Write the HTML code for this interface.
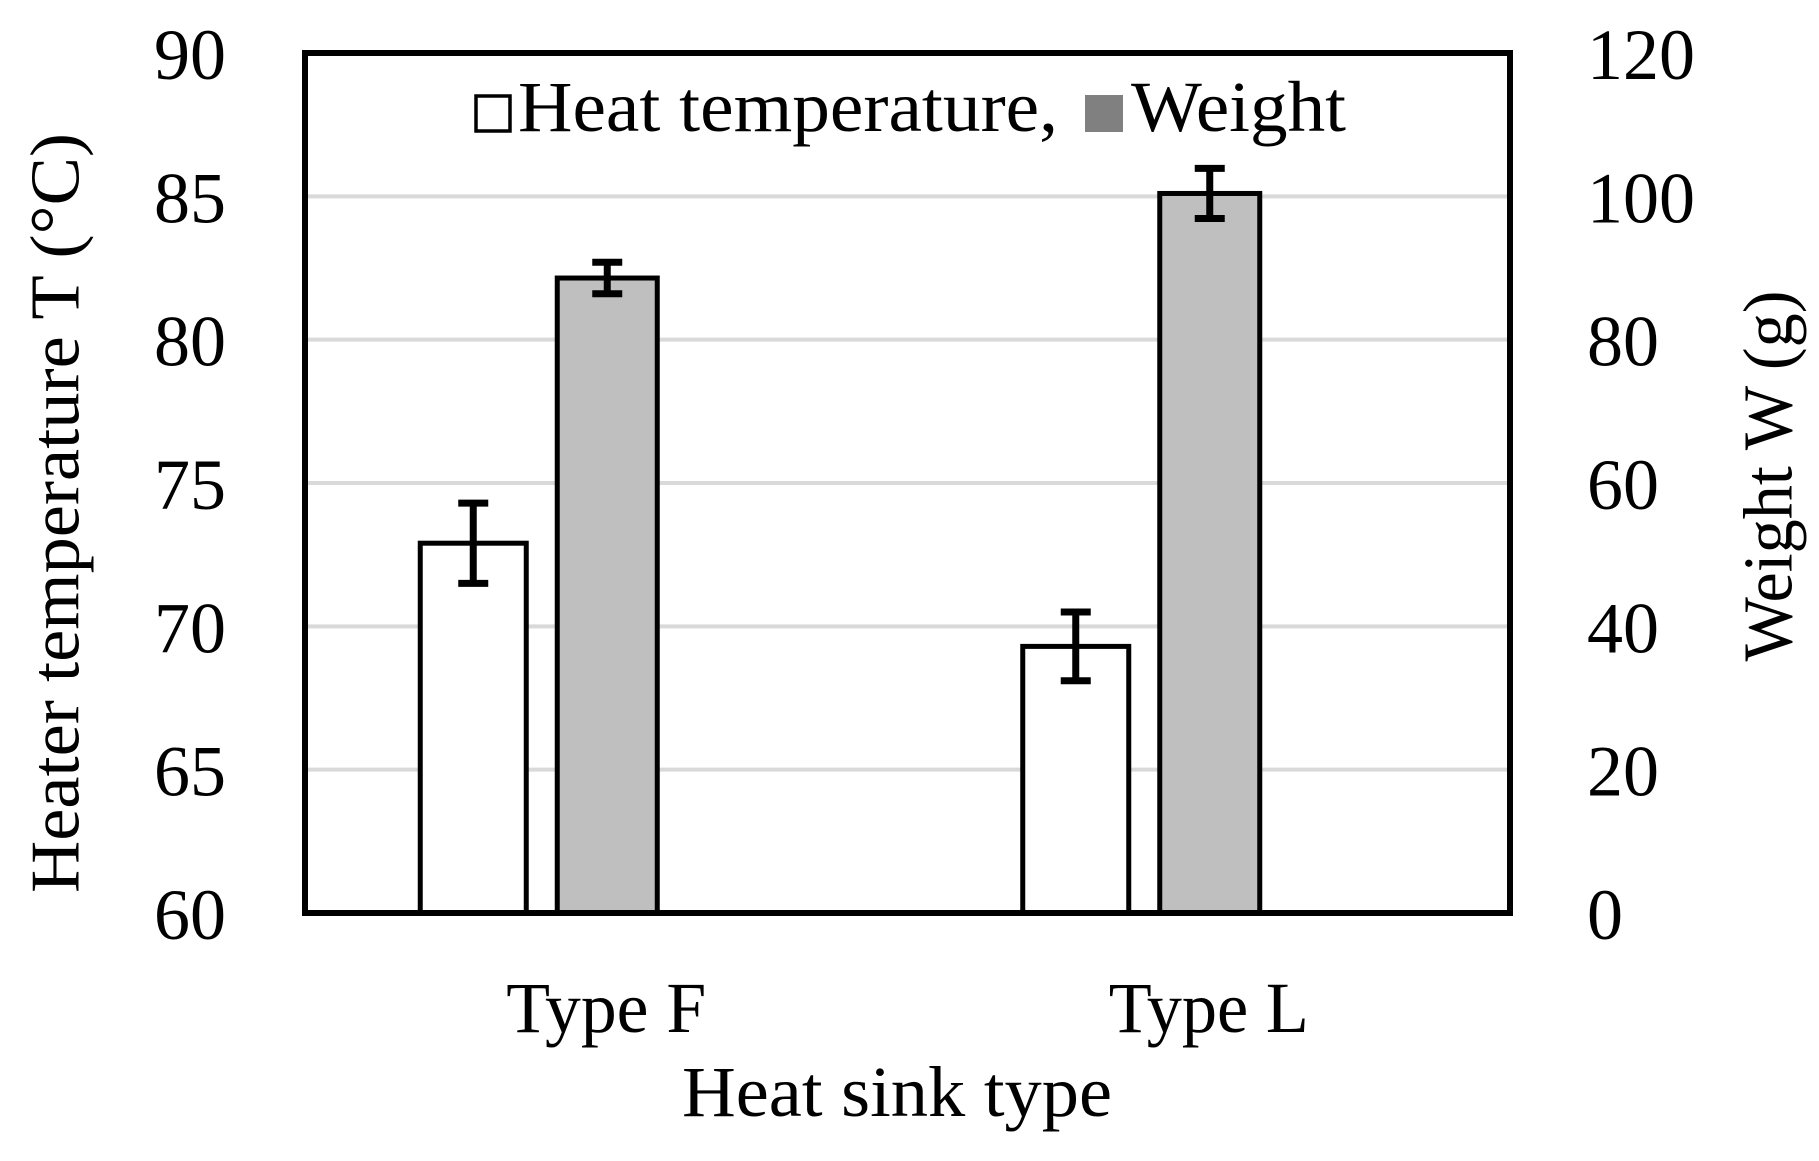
<!DOCTYPE html>
<html><head><meta charset="utf-8"><style>
html,body{margin:0;padding:0;background:#fff;}
svg{display:block;font-family:"Liberation Serif",serif;}
</style></head><body>
<svg id="chart" width="1819" height="1161" viewBox="0 0 1819 1161">
<g id="grid"></g>
<g id="bars"></g>
<g id="errs"></g>
<rect x="305" y="53" width="1205" height="860" fill="none" stroke="#000" stroke-width="6"/>
<g id="ticks" font-size="72" fill="#000"></g>
<text x="56" y="513" font-size="70" text-anchor="middle" dominant-baseline="central" textLength="760" lengthAdjust="spacingAndGlyphs" transform="rotate(-90 56 513)">Heater temperature T (°C)</text>
<text x="1769" y="476" font-size="70" text-anchor="middle" dominant-baseline="central" textLength="371" lengthAdjust="spacingAndGlyphs" transform="rotate(-90 1769 476)">Weight W (g)</text>
<text x="897" y="1116" font-size="72" text-anchor="middle" textLength="430" lengthAdjust="spacingAndGlyphs">Heat sink type</text>
<g>
<rect x="476" y="96" width="34" height="35" fill="#fff" stroke="#000" stroke-width="3.5"/>
<text x="518" y="131" font-size="72" textLength="540" lengthAdjust="spacingAndGlyphs">Heat temperature,</text>
<rect x="1085" y="95" width="38" height="37" fill="#808080"/>
<text x="1131" y="131" font-size="72" textLength="215" lengthAdjust="spacingAndGlyphs">Weight</text>
</g>
</svg>
<script>
const categories = ["Type F", "Type L"];
const tempValues = [72.9, 69.3];
const tempErrors = [1.4, 1.2];
const weightValues = [88.6, 100.4];
const weightErrors = [2.2, 3.5];
const leftTicks = [60, 65, 70, 75, 80, 85, 90];
const rightTicks = [0, 20, 40, 60, 80, 100, 120];

const NS = "http://www.w3.org/2000/svg";
const X0 = 305, X1 = 1510, Y0 = 913, Y1 = 53;
const yL = v => Y0 - (v - 60) / 30 * (Y0 - Y1);
const yR = v => Y0 - v / 120 * (Y0 - Y1);
const catW = (X1 - X0) / categories.length;
const xC = i => X0 + catW * (i + 0.5);
function mk(tag, attrs, parent) {
  const e = document.createElementNS(NS, tag);
  for (const k in attrs) e.setAttribute(k, attrs[k]);
  parent.appendChild(e);
  return e;
}
const grid = document.getElementById("grid");
const bars = document.getElementById("bars");
const errs = document.getElementById("errs");
const ticks = document.getElementById("ticks");
leftTicks.forEach((t, i) => {
  if (i > 0 && i < leftTicks.length - 1) {
    const l = mk("line", {x1: X0, x2: X1, y1: yL(t), y2: yL(t), stroke: "#d9d9d9", "stroke-width": 4}, grid);
    
    
  }
  const tx = mk("text", {x: 226, y: yL(t) + 26, "text-anchor": "end", textLength: 72, lengthAdjust: "spacingAndGlyphs"}, ticks);
  tx.textContent = t;
  
  
});
rightTicks.forEach(t => {
  const w = String(t).length * 36;
  const tx = mk("text", {x: 1587, y: yR(t) + 26, "text-anchor": "start", textLength: w, lengthAdjust: "spacingAndGlyphs"}, ticks);
  tx.textContent = t;
  
  
});
function err(cx, yTop, yBot) {
  const g = mk("g", {stroke: "#000", "stroke-width": 7}, errs);
  
  
  mk("line", {x1: cx, x2: cx, y1: yTop, y2: yBot}, g);
  mk("line", {x1: cx - 15, x2: cx + 15, y1: yTop, y2: yTop}, g);
  mk("line", {x1: cx - 15, x2: cx + 15, y1: yBot, y2: yBot}, g);
}
categories.forEach((c, i) => {
  const cx = xC(i);
  const wx = cx - 133, ww = 106;
  const b1 = mk("rect", {x: wx - ww / 2, y: yL(tempValues[i]), width: ww, height: Y0 - yL(tempValues[i]), fill: "#fff", stroke: "#000", "stroke-width": 5}, bars);
  
  
  const gx = cx + 1, gw = 100;
  const b2 = mk("rect", {x: gx - gw / 2, y: yR(weightValues[i]), width: gw, height: Y0 - yR(weightValues[i]), fill: "#bfbfbf", stroke: "#000", "stroke-width": 5}, bars);
  
  
  err(wx, yL(tempValues[i] + tempErrors[i]), yL(tempValues[i] - tempErrors[i]));
  err(gx, yR(weightValues[i] + weightErrors[i]), yR(weightValues[i] - weightErrors[i]));
  const tl = mk("text", {x: cx, y: 1032, "text-anchor": "middle", "font-size": 72, textLength: 200, lengthAdjust: "spacingAndGlyphs"}, ticks);
  tl.textContent = c;
  
  
});
</script>
</body></html>
